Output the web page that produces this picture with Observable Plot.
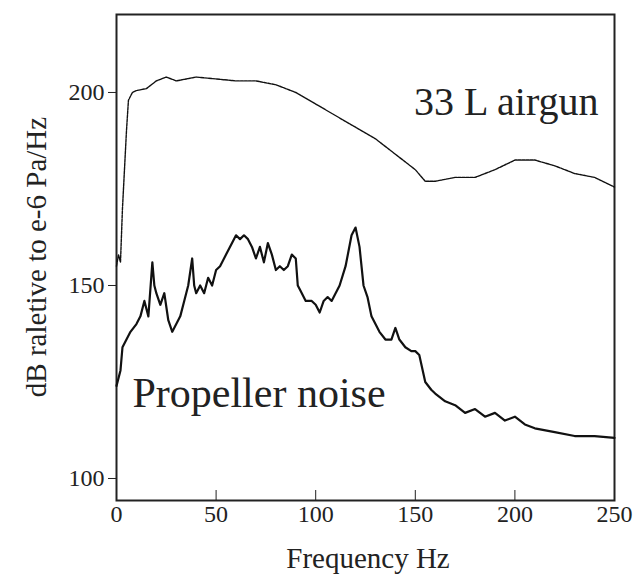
<!DOCTYPE html><html><head><meta charset="utf-8">
<script src="https://cdn.jsdelivr.net/npm/d3@7"></script>
<script src="https://cdn.jsdelivr.net/npm/@observablehq/plot@0.6"></script>
<style>body{margin:0;background:#fff}</style></head><body><div id="c"></div><script>
const airgunF=[0,1,2,3,4,5,6,8,10,15,20,25,30,35,40,50,60,70,80,90,100,110,120,130,140,150,155,160,170,180,190,200,210,220,230,240,250];
const airgunDb=[155,158,156,170,180,190,198,200,200.5,201,203,204,203,203.5,204,203.5,203,203,202,200,197,194,191,188,184,180,177,177,178,178,180,182.5,182.5,181,179,178,175.5];
const propF=[0,2,3,5,7,10,12,14,16,18,19,20,22,24,26,28,30,32,34,36,38,39,40,42,44,46,48,50,52,55,58,60,62,64,66,68,70,72,74,76,78,80,82,84,86,88,90,91,92,95,98,100,102,104,106,108,110,112,115,118,120,122,124,126,128,130,132,135,138,140,142,145,148,150,152,155,158,160,165,170,175,180,185,190,195,200,205,210,220,230,240,250];
const propDb=[124,128,134,136,138,140,142,146,142,156,150,148,145,148,141,138,140,142,146,150,157,150,148,150,148,152,150,154,155,158,161,163,162,163,162,160,157,160,156,161,158,154,155,154,155,158,157,150,149,146,146,145,143,146,147,146,148,150,155,163,165,160,150,147,142,140,138,136,136,139,136,134,133,133,132,125,123,122,120,119,117,118,116,117,115,116,114,113,112,111,111,110.5];
const xTicks=[0,50,100,150,200,250], yTicks=[100,150,200];
const FONT="'Times New Roman', 'Liberation Serif', 'DejaVu Serif', serif";
const air=airgunF.map((f,i)=>({f,v:airgunDb[i]})), prop=propF.map((f,i)=>({f,v:propDb[i]}));
const p=Plot.plot({width:634,height:576,marginLeft:116,marginRight:20,marginTop:14,marginBottom:76,
 style:{fontFamily:FONT,fontSize:"24px",color:"#222"},
 x:{domain:[0,250],ticks:xTicks},y:{domain:[94.3,220.2],ticks:yTicks},
 marks:[
  Plot.frame({stroke:"#222",strokeWidth:2}),
  Plot.axisY({ticks:yTicks,tickSize:8,tickPadding:4,fontSize:24,label:null}),
  Plot.axisX({ticks:xTicks,tickSize:-10,tickPadding:14,fontSize:24,label:null}),
  Plot.line(air,{x:"f",y:"v",curve:"linear",stroke:"#111",strokeWidth:1.4,strokeDasharray:"3,1"}),
  Plot.line(prop,{x:"f",y:"v",curve:"linear",stroke:"#111",strokeWidth:2.2}),
  Plot.text(["33 L airgun"],{frameAnchor:"top-right",dx:-16,dy:100,lineAnchor:"bottom",fontSize:40,fill:"#222"}),
  Plot.text(["Propeller noise"],{x:8,y:122,textAnchor:"start",fontSize:42,fill:"#222"})
 ]});
const s=d3.select(p);
s.append("text").attr("x",368).attr("y",568).attr("text-anchor","middle").attr("font-size",29).attr("fill","#222").text("Frequency Hz");
s.append("text").attr("transform","translate(46,257) rotate(-90)").attr("text-anchor","middle").attr("font-size",29).attr("fill","#222").text("dB raletive to e-6 Pa/Hz");
s.selectAll("text").style("font-family",FONT);
document.getElementById("c").append(p);
</script></body></html>
